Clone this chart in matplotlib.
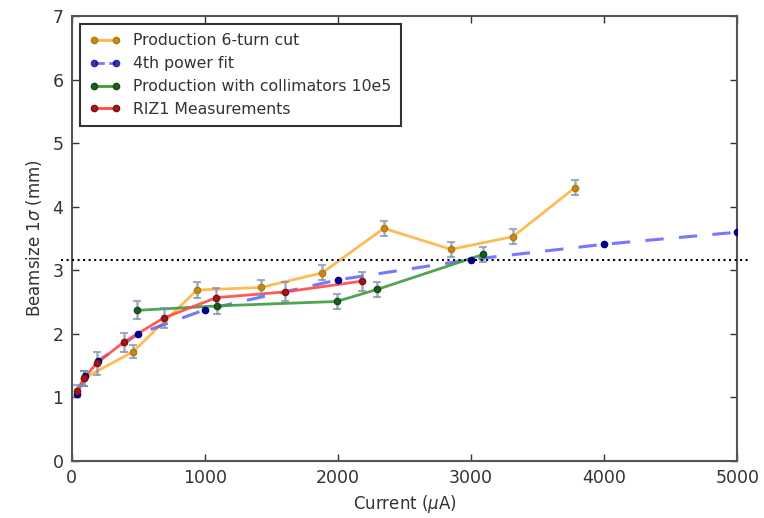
import matplotlib
matplotlib.use("Agg")
import matplotlib.pyplot as plt
from matplotlib.lines import Line2D

# Production 6-turn cut
prod_x = [90, 460, 940, 1420, 1880, 2345, 2850, 3315, 3780]
prod_y = [1.30, 1.72, 2.69, 2.73, 2.96, 3.66, 3.33, 3.53, 4.30]
prod_err = [0.12, 0.10, 0.12, 0.12, 0.12, 0.12, 0.12, 0.12, 0.12]

# 4th power fit
fit_x = [38, 100, 200, 500, 1000, 2000, 3000, 4000, 5000]
fit_y = [1.06, 1.33, 1.58, 2.00, 2.38, 2.85, 3.17, 3.41, 3.60]

# Production with collimators 10e5
coll_x = [490, 1090, 1990, 2295, 3090]
coll_y = [2.37, 2.44, 2.51, 2.70, 3.25]
coll_err = [0.14, 0.12, 0.12, 0.12, 0.12]

# RIZ1 Measurements
riz_x = [38, 90, 188, 390, 690, 1085, 1600, 2180]
riz_y = [1.10, 1.30, 1.54, 1.87, 2.25, 2.57, 2.66, 2.83]
riz_err = [0.10, 0.12, 0.18, 0.15, 0.15, 0.15, 0.15, 0.15]

threshold = 3.16

fig = plt.figure(figsize=(7.64, 5.18), dpi=100)
ax = fig.add_axes([0.094, 0.110, 0.871, 0.859])

ecol = '#7a8ca8'
MS = 4.5
ax.plot(prod_x, prod_y, '-', color='#ffb340', lw=2, alpha=0.9, zorder=3)
ax.errorbar(prod_x, prod_y, yerr=prod_err, fmt='none', ecolor=ecol, elinewidth=1.8,
            capsize=3, capthick=1.5, alpha=0.7, zorder=4)
ax.plot(prod_x, prod_y, 'o', color='#c88a14', ms=MS, mec='#b07810', zorder=5)

ax.plot(fit_x, fit_y, '--', color='#4a4aff', lw=2.2, alpha=0.75, dashes=(6, 5), zorder=3)
ax.plot(fit_x, fit_y, 'o', color='#0000a0', ms=MS, mec='#000080', zorder=5)

ax.plot(coll_x, coll_y, '-', color='#3c9c3c', lw=2, alpha=0.9, zorder=3)
ax.errorbar(coll_x, coll_y, yerr=coll_err, fmt='none', ecolor=ecol, elinewidth=1.8,
            capsize=3, capthick=1.5, alpha=0.7, zorder=4)
ax.plot(coll_x, coll_y, 'o', color='#1a5e1a', ms=MS, mec='#124a12', zorder=5)

ax.plot(riz_x, riz_y, '-', color='#ff4848', lw=2, alpha=0.9, zorder=3)
ax.errorbar(riz_x, riz_y, yerr=riz_err, fmt='none', ecolor=ecol, elinewidth=1.8,
            capsize=3, capthick=1.5, alpha=0.7, zorder=4)
ax.plot(riz_x, riz_y, 'o', color='#a01818', ms=MS, mec='#801010', zorder=5)

ax.plot([-80, 5100], [threshold, threshold], ':', color='black', lw=1.5, clip_on=False, zorder=6)

ax.set_xlim(0, 5000)
ax.set_ylim(0, 7)
ax.set_xticks([0, 1000, 2000, 3000, 4000, 5000])
ax.set_yticks(range(0, 8))
ax.tick_params(direction='in', top=True, right=True, length=5, width=1, colors='#333333',
               labelsize=12.5, labelcolor='#333333', pad=6)
for s in ax.spines.values():
    s.set_color('#555555')
    s.set_linewidth(1.5)

ax.set_xlabel('Current ($\\mu$A)', fontsize=12, color='#333333')
ax.set_ylabel('Beamsize 1$\\sigma$ (mm)', fontsize=12, color='#333333', labelpad=6)

h1 = Line2D([], [], color='#ffb340', lw=2, marker='o', mfc='#c88a14', mec='#b07810', ms=MS)
h2 = Line2D([], [], color='#4a4aff', lw=2, ls='--', alpha=0.75, marker='o', mfc='#0000a0', mec='#000080', ms=MS)
h3 = Line2D([], [], color='#3c9c3c', lw=2, marker='o', mfc='#1a5e1a', mec='#124a12', ms=MS)
h4 = Line2D([], [], color='#ff4848', lw=2, marker='o', mfc='#a01818', mec='#801010', ms=MS)
leg = ax.legend([h1, h2, h3, h4],
                ['Production 6-turn cut', '4th power fit', 'Production with collimators 10e5',
                 'RIZ1 Measurements'],
                loc='upper left', numpoints=2, fontsize=11.3, fancybox=False,
                framealpha=1, edgecolor='#333333', handlelength=2.0, labelspacing=0.5,
                handletextpad=0.8, borderaxespad=0.5, borderpad=0.6)
leg.get_frame().set_linewidth(1.5)
for t in leg.get_texts():
    t.set_color('#333333')

fig.savefig('out.png', dpi=100)
